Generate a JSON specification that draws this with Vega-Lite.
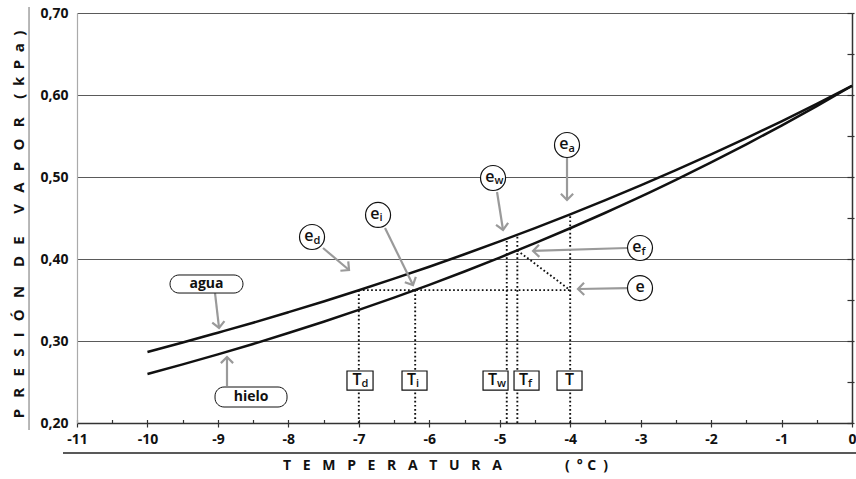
{
  "$schema": "https://vega.github.io/schema/vega-lite/v6.json",
  "width": 775,
  "height": 410,
  "autosize": {"type": "none"},
  "padding": {"left": 77, "top": 13, "right": 4, "bottom": 56},
  "background": "white",
  "config": {"view": {"stroke": null}, "font": "Open Sans"},
  "datasets": {
    "curves": [
      {"T": -10, "e": 0.2866, "fase": "agua"}, {"T": -9.5, "e": 0.2981, "fase": "agua"}, {"T": -9, "e": 0.3101, "fase": "agua"}, {"T": -8.5, "e": 0.3223, "fase": "agua"}, {"T": -8, "e": 0.3351, "fase": "agua"}, {"T": -7.5, "e": 0.3482, "fase": "agua"}, {"T": -7, "e": 0.3619, "fase": "agua"}, {"T": -6.5, "e": 0.376, "fase": "agua"}, {"T": -6, "e": 0.3906, "fase": "agua"}, {"T": -5.5, "e": 0.4058, "fase": "agua"}, {"T": -5, "e": 0.4215, "fase": "agua"}, {"T": -4.5, "e": 0.4377, "fase": "agua"}, {"T": -4, "e": 0.4545, "fase": "agua"}, {"T": -3.5, "e": 0.4719, "fase": "agua"}, {"T": -3, "e": 0.4898, "fase": "agua"}, {"T": -2.5, "e": 0.5084, "fase": "agua"}, {"T": -2, "e": 0.5275, "fase": "agua"}, {"T": -1.5, "e": 0.5474, "fase": "agua"}, {"T": -1, "e": 0.5678, "fase": "agua"}, {"T": -0.5, "e": 0.5891, "fase": "agua"}, {"T": 0, "e": 0.6112, "fase": "agua"},
      {"T": -10, "e": 0.2598, "fase": "hielo"}, {"T": -9.5, "e": 0.2715, "fase": "hielo"}, {"T": -9, "e": 0.2837, "fase": "hielo"}, {"T": -8.5, "e": 0.2964, "fase": "hielo"}, {"T": -8, "e": 0.3097, "fase": "hielo"}, {"T": -7.5, "e": 0.3235, "fase": "hielo"}, {"T": -7, "e": 0.3379, "fase": "hielo"}, {"T": -6.5, "e": 0.3529, "fase": "hielo"}, {"T": -6, "e": 0.3685, "fase": "hielo"}, {"T": -5.5, "e": 0.3848, "fase": "hielo"}, {"T": -5, "e": 0.4017, "fase": "hielo"}, {"T": -4.5, "e": 0.4193, "fase": "hielo"}, {"T": -4, "e": 0.4375, "fase": "hielo"}, {"T": -3.5, "e": 0.4564, "fase": "hielo"}, {"T": -3, "e": 0.476, "fase": "hielo"}, {"T": -2.5, "e": 0.4965, "fase": "hielo"}, {"T": -2, "e": 0.5177, "fase": "hielo"}, {"T": -1.5, "e": 0.5398, "fase": "hielo"}, {"T": -1, "e": 0.5627, "fase": "hielo"}, {"T": -0.5, "e": 0.5865, "fase": "hielo"}, {"T": 0, "e": 0.6112, "fase": "hielo"}
    ],
    "guides": [
      {"x": -7, "y": 0.2, "x2": -7, "y2": 0.362},
      {"x": -6.2, "y": 0.2, "x2": -6.2, "y2": 0.362},
      {"x": -4.9, "y": 0.2, "x2": -4.9, "y2": 0.425},
      {"x": -4.75, "y": 0.2, "x2": -4.75, "y2": 0.43},
      {"x": -4, "y": 0.2, "x2": -4, "y2": 0.4545},
      {"x": -7, "y": 0.362, "x2": -4, "y2": 0.362},
      {"x": -4.75, "y": 0.4104, "x2": -4, "y2": 0.362}
    ],
    "frame": [
      {"x": -11.681, "y": 0.7073, "x2": -11.681, "y2": 0.1915, "c": "v"},
      {"x": -11.199, "y": 0.1634, "x2": 0.057, "y2": 0.1634, "c": "h"}
    ],
    "arrows": [
      {"x": -4.045, "y": 0.5232, "x2": -4.045, "y2": 0.472, "angle": 0},
      {"x": -5.038, "y": 0.4817, "x2": -4.953, "y2": 0.4354, "angle": -9},
      {"x": -6.628, "y": 0.4378, "x2": -6.231, "y2": 0.3683, "angle": -26},
      {"x": -7.508, "y": 0.4134, "x2": -7.139, "y2": 0.3866, "angle": -50},
      {"x": -3.193, "y": 0.4134, "x2": -4.527, "y2": 0.4098, "angle": 88},
      {"x": -3.193, "y": 0.3646, "x2": -3.889, "y2": 0.3634, "angle": 89},
      {"x": -9.041, "y": 0.3585, "x2": -8.984, "y2": 0.3159, "angle": -6.5},
      {"x": -8.871, "y": 0.2451, "x2": -8.871, "y2": 0.2805, "angle": 180}
    ],
    "boxes": [
      {"x": -7.168, "x2": -6.798, "y": 0.2634, "y2": 0.2402},
      {"x": -6.387, "x2": -6.032, "y": 0.2634, "y2": 0.2402},
      {"x": -5.237, "x2": -4.882, "y": 0.2634, "y2": 0.2402},
      {"x": -4.797, "x2": -4.442, "y": 0.2634, "y2": 0.2402},
      {"x": -4.187, "x2": -3.832, "y": 0.2634, "y2": 0.2402}
    ],
    "pills": [
      {"x": -9.68, "x2": -8.644, "y": 0.3805, "y2": 0.3585, "xc": -9.162, "yc": 0.3695, "label": "agua"},
      {"x": -9.041, "x2": -8.019, "y": 0.2439, "y2": 0.2195, "xc": -8.53, "yc": 0.2317, "label": "hielo"}
    ],
    "circles": [
      {"x": -4.045, "y": 0.539},
      {"x": -5.095, "y": 0.4988},
      {"x": -6.727, "y": 0.4537},
      {"x": -7.664, "y": 0.4268},
      {"x": -3.009, "y": 0.4134},
      {"x": -3.009, "y": 0.3646}
    ],
    "labels": [
      {"x": -4.045, "y": 0.539, "main": "e", "sub": "a", "kind": "c"},
      {"x": -5.095, "y": 0.4988, "main": "e", "sub": "w", "kind": "c"},
      {"x": -6.727, "y": 0.4537, "main": "e", "sub": "i", "kind": "c"},
      {"x": -7.664, "y": 0.4268, "main": "e", "sub": "d", "kind": "c"},
      {"x": -3.009, "y": 0.4134, "main": "e", "sub": "f", "kind": "c"},
      {"x": -3.009, "y": 0.3646, "main": "e", "sub": "", "kind": "c"},
      {"x": -6.983, "y": 0.2518, "main": "T", "sub": "d", "kind": "b"},
      {"x": -6.21, "y": 0.2518, "main": "T", "sub": "i", "kind": "b"},
      {"x": -5.06, "y": 0.2518, "main": "T", "sub": "w", "kind": "b"},
      {"x": -4.62, "y": 0.2518, "main": "T", "sub": "f", "kind": "b"},
      {"x": -4.01, "y": 0.2518, "main": "T", "sub": "", "kind": "b"}
    ]
  },
  "layer": [
    {
      "layer": [
        {
          "data": {"name": "curves"},
          "mark": {"type": "line", "color": "#111", "strokeWidth": 2.5, "interpolate": "monotone"},
          "encoding": {
            "x": {"field": "T", "type": "quantitative", "scale": {"domain": [-11, 0], "nice": false, "zero": false},
              "axis": {"orient": "bottom", "values": [-11, -10, -9, -8, -7, -6, -5, -4, -3, -2, -1, 0], "labelExpr": "'' + datum.value", "labelFont": "Open Sans", "labelFontSize": 14, "labelFontWeight": "bold", "labelColor": "#111", "labelPadding": 5, "labelFlush": false, "labelOverlap": false, "tickSize": 4, "tickColor": "#333", "tickWidth": 1.2, "domainColor": "#333", "domainWidth": 1.5, "grid": false,
                "title": "T\u2002\u2004E\u2002\u2004M\u2002\u2004P\u2002\u2004E\u2002\u2004R\u2002\u2004A\u2002\u2004T\u2002\u2004U\u2002\u2004R\u2002\u2004A\u2003\u2003\u2003\u2003\u2002(\u2002°\u2004C\u2002)", "titleFont": "Open Sans", "titleFontSize": 14, "titleFontWeight": "bold", "titleColor": "#111", "titlePadding": 12, "titleX": 368}},
            "y": {"field": "e", "type": "quantitative", "scale": {"domain": [0.2, 0.7], "nice": false, "zero": false},
              "axis": {"orient": "left", "values": [0.2, 0.3, 0.4, 0.5, 0.6, 0.7], "labelExpr": "replace(format(datum.value, '.2f'), '.', ',')", "labelFont": "Open Sans", "labelFontSize": 14, "labelFontWeight": "bold", "labelColor": "#111", "labelPadding": 9, "ticks": false, "domainColor": "#aaa", "domainWidth": 1.2, "grid": true, "gridColor": "#5a5a5a", "gridWidth": 1,
                "title": "P\u2002\u2005R\u2002\u2005E\u2002\u2005S\u2002\u2005I\u2002\u2005Ó\u2002\u2005N\u2003\u2005D\u2002\u2005E\u2003\u2002V\u2002\u2005A\u2002\u2005P\u2002\u2005O\u2002\u2005R\u2003\u2005(\u2002k\u2002P\u2002a\u2002)", "titleFont": "Open Sans", "titleFontSize": 15, "titleFontWeight": "bold", "titleColor": "#111", "titlePadding": 13, "titleY": 211}},
            "detail": {"field": "fase", "type": "nominal"}
          }
        },
        {
          "data": {"name": "guides"},
          "mark": {"type": "rule", "color": "#111", "strokeWidth": 1.9, "strokeDash": [1.7, 2.4]},
          "encoding": {
            "x": {"field": "x", "type": "quantitative", "scale": {"domain": [-11, 0], "nice": false, "zero": false}},
            "y": {"field": "y", "type": "quantitative", "scale": {"domain": [0.2, 0.7], "nice": false, "zero": false}},
            "x2": {"field": "x2"},
            "y2": {"field": "y2"}
          }
        },
        {
          "data": {"name": "frame"},
          "mark": {"type": "rule", "clip": false},
          "encoding": {
            "x": {"field": "x", "type": "quantitative", "scale": {"domain": [-11, 0], "nice": false, "zero": false}},
            "y": {"field": "y", "type": "quantitative", "scale": {"domain": [0.2, 0.7], "nice": false, "zero": false}},
            "x2": {"field": "x2"},
            "y2": {"field": "y2"},
            "color": {"field": "c", "type": "nominal", "scale": {"domain": ["v", "h"], "range": ["#888888", "#222222"]}, "legend": null},
            "strokeWidth": {"field": "c", "type": "nominal", "scale": {"domain": ["v", "h"], "range": [1.2, 1.6]}, "legend": null}
          }
        },
        {
          "data": {"name": "arrows"},
          "mark": {"type": "rule", "color": "#9a9a9a", "strokeWidth": 2.2},
          "encoding": {
            "x": {"field": "x", "type": "quantitative", "scale": {"domain": [-11, 0], "nice": false, "zero": false}},
            "y": {"field": "y", "type": "quantitative", "scale": {"domain": [0.2, 0.7], "nice": false, "zero": false}},
            "x2": {"field": "x2"},
            "y2": {"field": "y2"}
          }
        },
        {
          "data": {"name": "arrows"},
          "mark": {"type": "point", "shape": "M-1,-1L0,0L1,-1", "filled": false, "color": "#9a9a9a", "strokeWidth": 2.2, "size": 150, "opacity": 1},
          "encoding": {
            "x": {"field": "x2", "type": "quantitative", "scale": {"domain": [-11, 0], "nice": false, "zero": false}},
            "y": {"field": "y2", "type": "quantitative", "scale": {"domain": [0.2, 0.7], "nice": false, "zero": false}},
            "angle": {"field": "angle", "type": "quantitative", "scale": null}
          }
        },
        {
          "data": {"name": "boxes"},
          "mark": {"type": "rect", "fill": "white", "stroke": "#111", "strokeWidth": 1.2},
          "encoding": {
            "x": {"field": "x", "type": "quantitative", "scale": {"domain": [-11, 0], "nice": false, "zero": false}},
            "y": {"field": "y", "type": "quantitative", "scale": {"domain": [0.2, 0.7], "nice": false, "zero": false}},
            "x2": {"field": "x2"},
            "y2": {"field": "y2"}
          }
        },
        {
          "data": {"name": "pills"},
          "mark": {"type": "rect", "fill": "white", "stroke": "#111", "strokeWidth": 1, "cornerRadius": 9},
          "encoding": {
            "x": {"field": "x", "type": "quantitative", "scale": {"domain": [-11, 0], "nice": false, "zero": false}},
            "y": {"field": "y", "type": "quantitative", "scale": {"domain": [0.2, 0.7], "nice": false, "zero": false}},
            "x2": {"field": "x2"},
            "y2": {"field": "y2"}
          }
        },
        {
          "data": {"name": "pills"},
          "mark": {"type": "text", "font": "Open Sans", "fontSize": 14, "fontWeight": "bold", "color": "#111", "baseline": "middle", "align": "center"},
          "encoding": {
            "x": {"field": "xc", "type": "quantitative", "scale": {"domain": [-11, 0], "nice": false, "zero": false}},
            "y": {"field": "yc", "type": "quantitative", "scale": {"domain": [0.2, 0.7], "nice": false, "zero": false}},
            "text": {"field": "label"}
          }
        },
        {
          "data": {"name": "circles"},
          "mark": {"type": "point", "shape": "circle", "size": 625, "filled": true, "fill": "white", "stroke": "#111", "strokeWidth": 1.2, "opacity": 1},
          "encoding": {
            "x": {"field": "x", "type": "quantitative", "scale": {"domain": [-11, 0], "nice": false, "zero": false}},
            "y": {"field": "y", "type": "quantitative", "scale": {"domain": [0.2, 0.7], "nice": false, "zero": false}}
          }
        },
        {
          "data": {"name": "labels"},
          "transform": [{"filter": "datum.sub != ''"}],
          "mark": {"type": "text", "font": "Open Sans", "fontSize": 16, "fontWeight": 600, "color": "#111", "baseline": "middle", "align": "right", "dx": 1.5, "dy": -1},
          "encoding": {
            "x": {"field": "x", "type": "quantitative", "scale": {"domain": [-11, 0], "nice": false, "zero": false}},
            "y": {"field": "y", "type": "quantitative", "scale": {"domain": [0.2, 0.7], "nice": false, "zero": false}},
            "text": {"field": "main"}
          }
        },
        {
          "data": {"name": "labels"},
          "transform": [{"filter": "datum.sub == ''"}],
          "mark": {"type": "text", "font": "Open Sans", "fontSize": 16, "fontWeight": 600, "color": "#111", "baseline": "middle", "align": "center", "dy": -1},
          "encoding": {
            "x": {"field": "x", "type": "quantitative", "scale": {"domain": [-11, 0], "nice": false, "zero": false}},
            "y": {"field": "y", "type": "quantitative", "scale": {"domain": [0.2, 0.7], "nice": false, "zero": false}},
            "text": {"field": "main"}
          }
        },
        {
          "data": {"name": "labels"},
          "transform": [{"filter": "datum.sub != ''"}],
          "mark": {"type": "text", "font": "Open Sans", "fontSize": 11, "fontWeight": 600, "color": "#111", "baseline": "middle", "align": "left", "dx": 1.5, "dy": 3.5},
          "encoding": {
            "x": {"field": "x", "type": "quantitative", "scale": {"domain": [-11, 0], "nice": false, "zero": false}},
            "y": {"field": "y", "type": "quantitative", "scale": {"domain": [0.2, 0.7], "nice": false, "zero": false}},
            "text": {"field": "sub"}
          }
        }
      ]
    },
    {
      "data": {"name": "curves"},
      "mark": {"type": "point", "opacity": 0},
      "encoding": {
        "x": {"field": "T", "type": "quantitative", "scale": {"domain": [-11, 0], "nice": false, "zero": false},
          "axis": {"orient": "bottom", "values": [-11, -10.5, -10, -9.5, -9, -8.5, -8, -7.5, -7, -6.5, -6, -5.5, -5, -4.5, -4, -3.5, -3, -2.5, -2, -1.5, -1, -0.5, 0], "labels": false, "domain": false, "grid": false, "title": null, "tickSize": -3.5, "tickColor": "#333", "tickWidth": 1.2}},
        "y": {"field": "e", "type": "quantitative", "scale": {"domain": [0.2, 0.7], "nice": false, "zero": false},
          "axis": {"orient": "right", "values": [0.2, 0.25, 0.3, 0.35, 0.4, 0.45, 0.5, 0.55, 0.6, 0.65, 0.7], "labels": false, "domain": true, "domainColor": "#333", "domainWidth": 1.5, "grid": false, "title": null, "tickSize": -5, "tickColor": "#333", "tickWidth": 1.2}}
      }
    },
    {
      "data": {"name": "curves"},
      "mark": {"type": "point", "opacity": 0},
      "encoding": {
        "x": {"field": "T", "type": "quantitative", "scale": {"domain": [-11, 0], "nice": false, "zero": false}, "axis": null},
        "y": {"field": "e", "type": "quantitative", "scale": {"domain": [0.2, 0.7], "nice": false, "zero": false},
          "axis": {"orient": "right", "values": [0.2, 0.25, 0.3, 0.35, 0.4, 0.45, 0.5, 0.55, 0.6, 0.65, 0.7], "labels": false, "domain": false, "grid": false, "title": null, "tickSize": 2, "tickColor": "#333", "tickWidth": 1.2}}
      }
    }
  ],
  "resolve": {"axis": {"x": "independent", "y": "independent"}}
}
